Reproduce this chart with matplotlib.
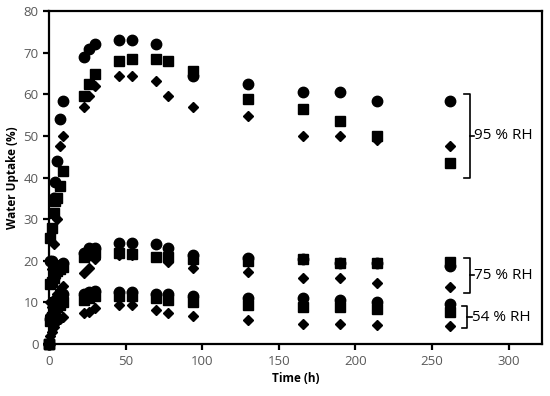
import numpy as np
import matplotlib
matplotlib.use('Agg')
import matplotlib.pyplot as plt

plt.rcParams['font.family'] = ['Open Sans', 'DejaVu Sans']

# time points (h)
t_early = [0, 1, 2, 3, 4, 5, 7, 9]
t_late = [23, 26, 30, 46, 54, 70, 78, 94, 130, 166, 190, 214, 262]

# 95 % RH
rh95_circle_t = [0, 2, 3, 4, 5, 7, 9, 23, 26, 30, 46, 54, 70, 94, 130, 166, 190, 214, 262]
rh95_circle = [0, 20, 35, 39, 44, 54, 58.5, 69, 71, 72, 73, 73, 72, 64.5, 62.5, 60.5, 60.5, 58.5, 58.5]
rh95_square_t = [0, 1, 2, 3, 4, 5, 7, 9, 23, 26, 30, 46, 54, 70, 78, 94, 130, 166, 190, 214, 262]
rh95_square = [0, 25.5, 28, 31.5, 34.5, 35, 38, 41.5, 59.5, 62.5, 65, 68, 68.5, 68.5, 68, 65.5, 59, 56.5, 53.5, 50, 43.5]
rh95_diamond_t = [0, 1, 2, 3, 5, 7, 9, 23, 26, 30, 46, 54, 70, 78, 94, 130, 166, 190, 214, 262]
rh95_diamond = [0, 10, 18, 24, 30, 47.5, 50, 57, 59.5, 62, 64.3, 64.3, 63.2, 59.5, 57, 54.7, 50, 50, 49, 47.5]

# 75 % RH
rh75_circle = [0, 20, 15, 16, 17, 18, 19, 19.5,
               22, 23, 23, 24.2, 24.2, 24.1, 23, 21.5, 20.8, 20.5, 19.5, 19.5, 18.8]
rh75_square = [0, 14.5, 15, 16, 17, 17.5, 18, 18.5,
               21, 21.5, 22, 21.8, 21.6, 21, 21, 20.5, 20, 20.4, 19.6, 19.6, 19.8]
rh75_diamond = [0, 7, 9, 10, 11, 12, 13, 14,
                17.2, 18.4, 20.5, 21.5, 21.3, 21, 19.8, 18.2, 17.3, 15.9, 15.9, 14.7, 13.7]

# 54 % RH
rh54_circle = [0, 6, 7, 8, 9, 10, 11, 12,
               12, 12.5, 12.8, 12.5, 12.5, 12, 12, 11.5, 11, 11, 10.5, 10, 9.6]
rh54_square = [0, 5.5, 6.5, 7.5, 8, 9, 9.5, 10,
               10.7, 11, 11.5, 11.5, 11.5, 11, 10.5, 10, 9.5, 9, 9, 8.5, 7.7]
rh54_diamond = [0, 2, 3, 4, 5, 5.5, 6, 6.5,
                7.4, 7.8, 8.6, 9.3, 9.3, 8.3, 7.5, 6.7, 5.9, 4.8, 4.8, 4.6, 4.4]

# bracket labels: (label, x, y_bottom, y_top)
brackets = [('95 % RH', 274.5, 39.8, 60.2),
            ('75 % RH', 274.5, 12.3, 20.8),
            ('54 % RH', 273.0, 3.8, 9.2)]

fig = plt.figure(figsize=(5.5, 3.96), dpi=100)
ax = fig.add_axes([0.089, 0.131, 0.896, 0.841])

t_all = t_early + t_late
kw = dict(color='black', linestyle='none', clip_on=False)
for y in [rh54_circle, rh75_circle]:
    ax.plot(t_all, y, marker='o', ms=7.5, **kw)
ax.plot(rh95_circle_t, rh95_circle, marker='o', ms=7.5, **kw)
for y in [rh54_square, rh75_square]:
    ax.plot(t_all, y, marker='s', ms=6.8, **kw)
ax.plot(rh95_square_t, rh95_square, marker='s', ms=6.8, **kw)
for y in [rh54_diamond, rh75_diamond]:
    ax.plot(t_all, y, marker='D', ms=4.6, **kw)
ax.plot(rh95_diamond_t, rh95_diamond, marker='D', ms=4.6, **kw)

# brackets
for label, bx, y0, y1 in brackets:
    ym = (y0 + y1) / 2
    ax.plot([bx - 3.5, bx, bx, bx - 3.5], [y1, y1, y0, y0], color='black', lw=1.2, clip_on=False)
    ax.plot([bx, bx + 3], [ym, ym], color='black', lw=1.2, clip_on=False)
    ax.text(bx + 3.2, ym, label, fontsize=11, va='center', ha='left')

ax.set_xlim(0, 321.6)
ax.set_ylim(0, 80)
ax.set_xticks(np.arange(0, 301, 50))
ax.set_yticks(np.arange(0, 81, 10))
for s in ax.spines.values():
    s.set_linewidth(1.6)
ax.tick_params(direction='out', length=4, width=1.6, labelsize=9.5, labelcolor='#595959',
               top=False, right=False)
ax.set_xlabel('Time (h)', fontsize=8.5, fontweight='bold', labelpad=3)
ax.set_ylabel('Water Uptake (%)', fontsize=8.5, fontweight='bold', labelpad=3)

fig.savefig('out.png', dpi=100)
